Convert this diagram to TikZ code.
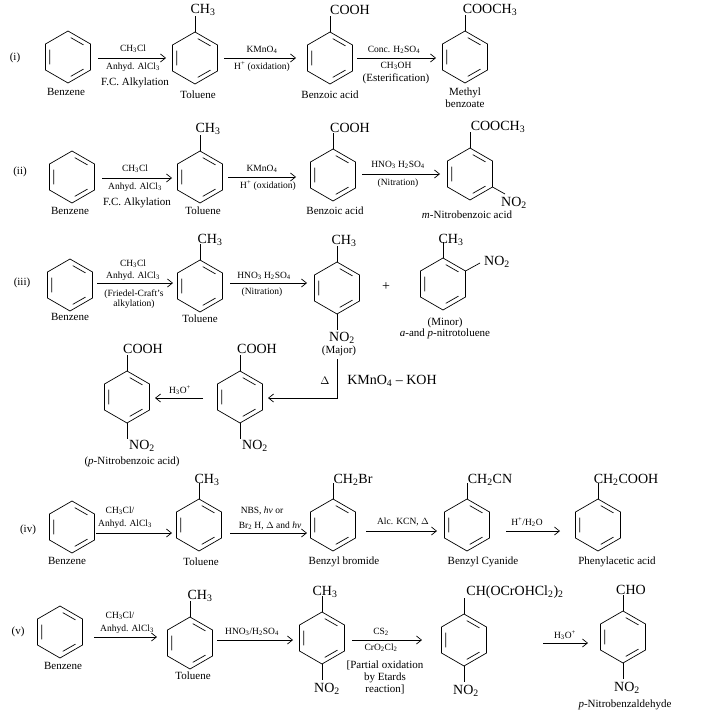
\documentclass[tikz,border=0pt]{standalone}
\usepackage{fontspec}
\setmainfont{Liberation Serif}
\begin{document}
\newcommand\s[1]{\textsubscript{#1}}
\newcommand\benz[2]{%
\begin{scope}[shift={(#1,#2)}]
\draw[bond] (0,-26)--(22.5,-13)--(22.5,13)--(0,26)--(-22.5,13)--(-22.5,-13)--cycle;
\draw[bond] (2.7,-19.4)--(15.5,-12.1) (15.5,12.1)--(2.7,19.4) (-18.2,7.4)--(-18.2,-7.4);
\end{scope}}
\newcommand\topb[2]{\draw[bond] (#1,#2-26)--(#1,#2-42);}
\newcommand\botb[2]{\draw[bond] (#1,#2+26)--(#1,#2+42);}
\begin{tikzpicture}[x=1pt,y=-1pt,
  bond/.style={line width=0.7pt},
  rx/.style={-{Straight Barb[length=5pt,width=8pt]},line width=0.7pt},
  lab/.style={font=\fontsize{11}{12}\selectfont,inner sep=0pt,align=center},
  sub/.style={font=\fontsize{14}{15}\selectfont,inner sep=0pt},
  rg/.style={font=\fontsize{9.5}{10.5}\selectfont,inner sep=0pt,align=center}]
\useasboundingbox (0,0) rectangle (713,717);
\usetikzlibrary{arrows.meta}
% ---------- (i)
\node[lab] (n1) at (15,58) {(i)};
\benz{68}{57}
\node[lab] (b1) at (66,92) {Benzene};
\coordinate (a1s) at (98,58); \coordinate (a1e) at (166,58);
\draw[rx] (a1s)--(a1e);
\node[rg] (r1a) at (133,49) {CH\s3Cl};
\node[rg] (r1b) at (133,67) {Anhyd. AlCl\s3};
\node[lab] (r1c) at (135,83) {F.C. Alkylation};
\benz{195}{58}\topb{195}{58}
\node[sub] (c1) at (203,10) {CH\s3};
\node[lab] (t1) at (198,95) {Toluene};
\coordinate (a2s) at (224,58); \coordinate (a2e) at (296,58);
\draw[rx] (a2s)--(a2e);
\node[rg] (r2a) at (262,50) {KMnO\s4};
\node[rg] (r2b) at (262,67) {H\textsuperscript{+} (oxidation)};
\benz{330}{58}\topb{330}{58}
\node[sub] (c2) at (350,10) {COOH};
\node[lab] (t2) at (330,95) {Benzoic acid};
\coordinate (a3s) at (357,58); \coordinate (a3e) at (436,58);
\draw[rx] (a3s)--(a3e);
\node[rg] (r3a) at (394,50) {Conc. H\s2SO\s4};
\node[rg] (r3b) at (396,66) {CH\s3OH};
\node[lab] (r3c) at (396,79) {(Esterification)};
\benz{465}{57}\topb{465}{57}
\node[sub] (c3) at (490,10) {COOCH\s3};
\node[lab] (t3) at (465,98) {Methyl\\benzoate};
% ---------- (ii)
\node[lab] (n2) at (20,172) {(ii)};
\benz{72}{177}
\node[lab] (b2) at (70,211) {Benzene};
\coordinate (a4s) at (102,178); \coordinate (a4e) at (172,178);
\draw[rx] (a4s)--(a4e);
\node[rg] (r4a) at (135,169) {CH\s3Cl};
\node[rg] (r4b) at (135,187) {Anhyd. AlCl\s3};
\node[lab] (r4c) at (137,203) {F.C. Alkylation};
\benz{200}{177}\topb{200}{177}
\node[sub] (c4) at (208,129) {CH\s3};
\node[lab] (t4) at (203,211) {Toluene};
\coordinate (a5s) at (228,177); \coordinate (a5e) at (296,177);
\draw[rx] (a5s)--(a5e);
\node[rg] (r5a) at (262,169) {KMnO\s4};
\node[rg] (r5b) at (268,186) {H\textsuperscript{+} (oxidation)};
\benz{333}{175}\topb{333}{175}
\node[sub] (c5) at (350,128) {COOH};
\node[lab] (t5) at (335,211) {Benzoic acid};
\coordinate (a6s) at (362,174); \coordinate (a6e) at (440,174);
\draw[rx] (a6s)--(a6e);
\node[rg] (r6a) at (398,165) {HNO\s3 H\s2SO\s4};
\node[rg] (r6b) at (398,183) {(Nitration)};
\benz{470}{174}\topb{470}{174}
\draw[bond] (492.5,187)--(505,194);
\node[sub] (c6) at (498,127) {COOCH\s3};
\node[sub] (c6b) at (514,203) {NO\s2};
\node[lab] (t6) at (467,215) {\textit{m}-Nitrobenzoic acid};
% ---------- (iii)
\node[lab] (n3) at (22,283) {(iii)};
\benz{70}{285}
\node[lab] (b3) at (70,317) {Benzene};
\coordinate (a7s) at (97,283); \coordinate (a7e) at (173,283);
\draw[rx] (a7s)--(a7e);
\node[rg] (r7a) at (133,264) {CH\s3Cl};
\node[rg] (r7b) at (133,276) {Anhyd. AlCl\s3};
\node[rg] (r7c) at (134,299) {(Friedel-Craft's\\alkylation)};
\benz{200}{286}\topb{200}{286}
\node[sub] (c7) at (210,240) {CH\s3};
\node[lab] (t7) at (200,319) {Toluene};
\coordinate (a8s) at (230,283); \coordinate (a8e) at (307,283);
\draw[rx] (a8s)--(a8e);
\node[rg] (r8a) at (264,276) {HNO\s3 H\s2SO\s4};
\node[rg] (r8b) at (262,292) {(Nitration)};
\benz{337}{288}\topb{337}{288}\botb{337}{288}
\node[sub] (c8) at (344,241) {CH\s3};
\node[sub] (c8b) at (342,338) {NO\s2};
\node[lab] (t8) at (339,351) {(Major)};
\node[sub] (plus) at (386,287) {+};
\benz{443}{284}\topb{443}{284}
\draw[bond] (465.5,271)--(480,263);
\node[sub] (c9) at (451,240) {CH\s3};
\node[sub] (c9b) at (497,262) {NO\s2};
\node[lab] (t9) at (445,328) {(Minor)\\[-1pt]\textit{a}-and \textit{p}-nitrotoluene};
% lower part
\coordinate (k1) at (337,359); \coordinate (k2) at (337,398); \coordinate (k3) at (268,398);
\draw[rx] (k1)--(k2)--(k3);
\node[lab] (d1) at (325,381) {$\Delta$};
\node[sub] (d2) at (392,381) {KMnO\s4 -- KOH};
\benz{240}{397}\topb{240}{397}\botb{240}{397}
\node[sub] (c10) at (257,349) {COOH};
\node[sub] (c10b) at (255,446) {NO\s2};
\coordinate (h1) at (203,398); \coordinate (h2) at (155,398);
\draw[rx] (h1)--(h2);
\node[rg] (h3) at (180,390) {H\s3O\textsuperscript{+}};
\benz{127}{397}\topb{127}{397}\botb{127}{397}
\node[sub] (c11) at (143,349) {COOH};
\node[sub] (c11b) at (142,446) {NO\s2};
\node[lab] (t11) at (132,462) {(\textit{p}-Nitrobenzoic acid)};
% ---------- (iv)
\node[lab] (n4) at (28,530) {(iv)};
\benz{72}{527}
\node[lab] (b4) at (67,561) {Benzene};
\coordinate (a9s) at (96,533); \coordinate (a9e) at (172,533);
\draw[rx] (a9s)--(a9e);
\node[rg] (r9a) at (120,511) {CH\s3Cl/};
\node[rg] (r9b) at (125,524) {Anhyd. AlCl\s3};
\benz{199}{525}\topb{199}{525}
\node[sub] (c12) at (207,480) {CH\s3};
\node[lab] (t12) at (201,562) {Toluene};
\coordinate (a10s) at (230,533); \coordinate (a10e) at (307,533);
\draw[rx] (a10s)--(a10e);
\node[rg] (r10a) at (262,511) {NBS, \textit{hv} or};
\node[rg] (r10b) at (270,526) {Br\s2 H, $\Delta$ and \textit{hv}};
\benz{333}{525}\topb{333}{525}
\node[sub] (c13) at (353,480) {CH\s2Br};
\node[lab] (t13) at (344,562) {Benzyl bromide};
\coordinate (a11s) at (366,531); \coordinate (a11e) at (437,531);
\draw[rx] (a11s)--(a11e);
\node[rg] (r11) at (403,522) {Alc. KCN, $\Delta$};
\benz{467}{525}\topb{467}{525}
\node[sub] (c14) at (490,480) {CH\s2CN};
\node[lab] (t14) at (483,562) {Benzyl Cyanide};
\coordinate (a12s) at (506,531); \coordinate (a12e) at (560,531);
\draw[rx] (a12s)--(a12e);
\node[rg] (r12) at (527,522) {H\textsuperscript{+}/H\s2O};
\benz{598}{525}\topb{598}{525}
\node[sub] (c15) at (626,480) {CH\s2COOH};
\node[lab] (t15) at (617,562) {Phenylacetic acid};
% ---------- (v)
\node[lab] (n5) at (18,632) {(v)};
\benz{60}{632}
\node[lab] (b5) at (63,666) {Benzene};
\coordinate (a13s) at (94,637); \coordinate (a13e) at (157,637);
\draw[rx] (a13s)--(a13e);
\node[rg] (r13a) at (120,616) {CH\s3Cl/};
\node[rg] (r13b) at (127,629) {Anhyd. AlCl\s3};
\benz{190}{643}\topb{190}{643}
\node[sub] (c16) at (200,596) {CH\s3};
\node[lab] (t16) at (193,676) {Toluene};
\coordinate (a14s) at (217,640); \coordinate (a14e) at (293,640);
\draw[rx] (a14s)--(a14e);
\node[rg] (r14) at (252,632) {HNO\s3/H\s2SO\s4};
\benz{322}{638}\topb{322}{638}\botb{322}{638}
\node[sub] (c17) at (325,592) {CH\s3};
\node[sub] (c17b) at (327,689) {NO\s2};
\coordinate (a15s) at (352,640); \coordinate (a15e) at (422,640);
\draw[rx] (a15s)--(a15e);
\node[rg] (r15a) at (381,632) {CS\s2};
\node[rg] (r15b) at (381,648) {CrO\s2Cl\s2};
\node[lab] (r15c) at (385,677) {[Partial oxidation\\by Etards\\reaction]};
\benz{464}{640}\topb{464}{640}\botb{464}{640}
\node[sub] (c18) at (515,592) {CH(OCrOHCl\s2)\s2};
\node[sub] (c18b) at (466,691) {NO\s2};
\coordinate (a16s) at (543,643); \coordinate (a16e) at (588,643);
\draw[rx] (a16s)--(a16e);
\node[rg] (r16) at (565,635) {H\s3O\textsuperscript{+}};
\benz{623}{637}\topb{623}{637}\botb{623}{637}
\node[sub] (c19) at (631,590) {CHO};
\node[sub] (c19b) at (627,688) {NO\s2};
\node[lab] (t19) at (625,705) {\textit{p}-Nitrobenzaldehyde};
\end{tikzpicture}
\end{document}
